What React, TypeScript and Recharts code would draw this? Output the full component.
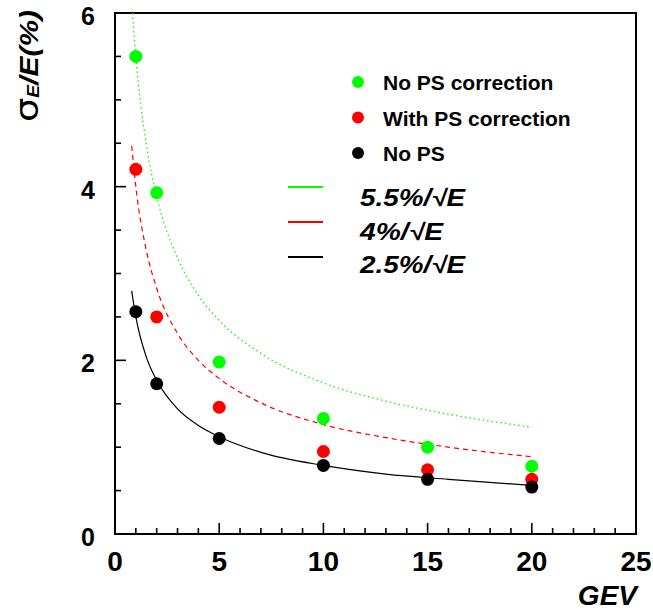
import React from "react";
import { ComposedChart, Line, Scatter, XAxis, YAxis, ReferenceArea, Legend, Label } from "recharts";

// measured points (energy in GeV, resolution in %)
const energies = [1, 2, 5, 10, 15, 20];
const noPsCorrection = [5.5, 3.93, 1.98, 1.33, 1.0, 0.78];
const withPsCorrection = [4.2, 2.5, 1.46, 0.95, 0.74, 0.63];
const noPs = [2.56, 1.73, 1.1, 0.79, 0.63, 0.54];

// fit curves
const fitEnergiesGreen = [0.84, 1, 1.5, 2, 3, 4, 5, 7, 10, 13, 16, 20];
const fitGreen = [6.0, 5.5, 4.49, 3.89, 3.18, 2.75, 2.46, 2.08, 1.74, 1.53, 1.38, 1.23];
const fitEnergies = [0.8, 1, 1.5, 2, 3, 4, 5, 7, 10, 13, 16, 20];
const fitRed = [4.47, 4.0, 3.27, 2.83, 2.31, 2.0, 1.79, 1.51, 1.26, 1.11, 1.0, 0.89];
const fitBlack = [2.8, 2.5, 2.04, 1.77, 1.44, 1.25, 1.12, 0.94, 0.79, 0.69, 0.63, 0.56];

const xTicks = [0, 1, 2, 3, 4, 5, 6, 7, 8, 9, 10, 11, 12, 13, 14, 15, 16, 17, 18, 19, 20, 21, 22, 23, 24, 25];
const xTickLabels = [0, 5, 10, 15, 20, 25];
const yTicks = [0, 0.5, 1, 1.5, 2, 2.5, 3, 3.5, 4, 4.5, 5, 5.5, 6];
const yTickLabels = [0, 2, 4, 6];

const seriesNames = ["No PS correction", "With PS correction", "No PS"];
const fitNames = ["5.5%/\u221AE", "4%/\u221AE", "2.5%/\u221AE"];

const GREEN = "#00ff00";
const RED = "#ff0000";
const BLACK = "#000000";
const FONT = '"Liberation Sans", Arial, Helvetica, sans-serif';

const toPoints = (xs: number[], ys: number[]) => xs.map((x, i) => ({ x, y: ys[i] }));

const XTick = (props: any) => {
  const { x, y, payload } = props;
  const major = xTickLabels.includes(payload.value);
  return (
    <g>
      <line x1={x} x2={x} y1={y} y2={y - (major ? 11 : 6)} stroke="#000" strokeWidth={1.6} />
      {major && (
        <text x={x} y={y + 37} textAnchor="middle" fontFamily={FONT} fontWeight="bold" fontSize={28}>
          {payload.value}
        </text>
      )}
    </g>
  );
};

const YTick = (props: any) => {
  const { x, y, payload } = props;
  const major = yTickLabels.includes(payload.value);
  return (
    <g>
      <line x1={x} x2={x + (major ? 11 : 6)} y1={y} y2={y} stroke="#000" strokeWidth={1.6} />
      {major && (
        <text x={x - 20} y={y + 12} textAnchor="end" fontFamily={FONT} fontWeight="bold" fontSize={25}>
          {payload.value}
        </text>
      )}
    </g>
  );
};

const dot = (color: string) => (props: any) => <circle cx={props.cx} cy={props.cy} r={6.5} fill={color} />;

const LegendBox = () => {
  const dotColors = [GREEN, RED, BLACK];
  const fitWidths = [105, 83, 105];
  return (
    <svg width={330} height={230} style={{ overflow: "visible" }}>
      {seriesNames.map((name, i) => (
        <g key={name}>
          <circle cx={78} cy={22 + i * 35.5} r={6} fill={dotColors[i]} />
          <text x={103} y={30 + i * 35.5} fontFamily={FONT} fontWeight="bold" fontSize={21}>
            {name}
          </text>
        </g>
      ))}
      {fitNames.map((name, i) => (
        <g key={name}>
          <line x1={8} x2={43} y1={127 + i * 35} y2={127 + i * 35} stroke={dotColors[i]} strokeWidth={2} />
          <text
            x={80}
            y={146 + i * 33.5}
            fontFamily={FONT}
            fontWeight="bold"
            fontStyle="italic"
            fontSize={23}
            textLength={fitWidths[i]}
            lengthAdjust="spacingAndGlyphs"
          >
            {name}
          </text>
        </g>
      ))}
    </svg>
  );
};

const YTitle = () => (
  <text
    transform="rotate(-90 38 66)"
    x={38}
    y={66}
    textAnchor="middle"
    fontFamily={FONT}
    textLength={112}
    lengthAdjust="spacingAndGlyphs"
  >
    <tspan fontSize={32} fontFamily="DejaVu Sans">σ</tspan>
    <tspan fontSize={16} fontWeight="bold" fontStyle="italic" dy={1}>E</tspan>
    <tspan fontSize={25} fontWeight="bold" fontStyle="italic" dy={-1}>/E(%)</tspan>
  </text>
);

const XTitle = () => (
  <text x={637} y={605} textAnchor="end" fontFamily={FONT} fontWeight="bold" fontStyle="italic" fontSize={28}>
    GEV
  </text>
);

export default function App() {
  return (
    <div style={{ position: "absolute", left: 0, top: 0, background: "#fff" }}>
      <ComposedChart width={653} height={612} margin={{ top: 13, right: 17, bottom: 0, left: 0 }}>
        <XAxis
          type="number"
          dataKey="x"
          domain={[0, 25]}
          ticks={xTicks}
          interval={0}
          height={78}
          tickSize={0}
          tickMargin={0}
          axisLine={false}
          tickLine={false}
          tick={<XTick />}
          allowDataOverflow
        >
          <Label content={<XTitle />} />
        </XAxis>
        <YAxis
          type="number"
          dataKey="y"
          domain={[0, 6]}
          ticks={yTicks}
          interval={0}
          width={115}
          tickSize={0}
          tickMargin={0}
          axisLine={false}
          tickLine={false}
          tick={<YTick />}
          allowDataOverflow
        >
          <Label content={<YTitle />} />
        </YAxis>
        <ReferenceArea x1={0} x2={25} y1={0} y2={6} fill="none" fillOpacity={0} stroke="#000" strokeWidth={2} />
        <Line
          data={toPoints(fitEnergiesGreen, fitGreen)}
          dataKey="y"
          type="monotone"
          stroke={GREEN}
          strokeWidth={1.3}
          strokeDasharray="1.5 3"
          dot={false}
          isAnimationActive={false}
        />
        <Line
          data={toPoints(fitEnergies, fitRed)}
          dataKey="y"
          type="monotone"
          stroke={RED}
          strokeWidth={1.2}
          strokeDasharray="5 4"
          dot={false}
          isAnimationActive={false}
        />
        <Line
          data={toPoints(fitEnergies, fitBlack)}
          dataKey="y"
          type="monotone"
          stroke={BLACK}
          strokeWidth={1.2}
          dot={false}
          isAnimationActive={false}
        />
        <Scatter data={toPoints(energies, noPsCorrection)} dataKey="y" shape={dot(GREEN)} isAnimationActive={false} />
        <Scatter data={toPoints(energies, withPsCorrection)} dataKey="y" shape={dot(RED)} isAnimationActive={false} />
        <Scatter data={toPoints(energies, noPs)} dataKey="y" shape={dot(BLACK)} isAnimationActive={false} />
        <Legend
          layout="vertical"
          align="center"
          verticalAlign="middle"
          wrapperStyle={{ position: "absolute", left: 280, top: 60, width: 330, height: 230 }}
          content={() => <LegendBox />}
        />
      </ComposedChart>
    </div>
  );
}
